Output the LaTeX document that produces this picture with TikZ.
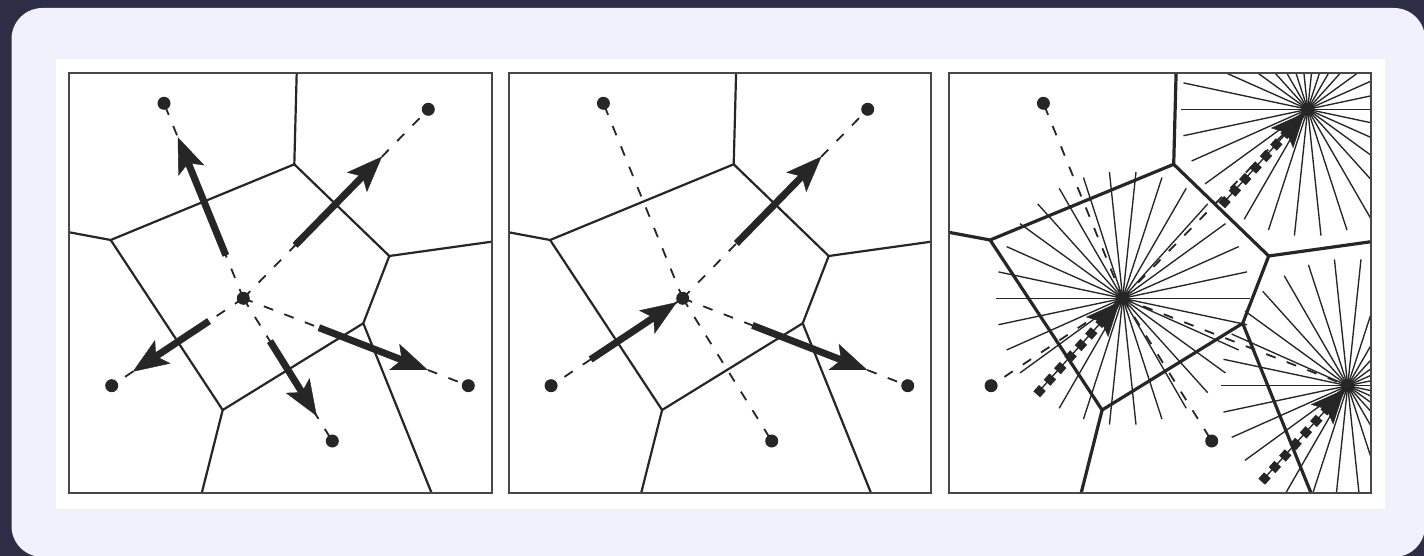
\documentclass[tikz,border=0pt]{standalone}
\usetikzlibrary{arrows.meta,calc}
\definecolor{bgdark}{HTML}{2D2D45}
\definecolor{lav}{HTML}{F1F1FD}
\definecolor{ink}{HTML}{262626}
\definecolor{framec}{HTML}{474747}

\newcommand\panelpts[2]{%
 \begin{scope}[shift={(#2,72.7)}]
  \coordinate (#1A) at (227.4,0);
  \coordinate (#1B) at (225,91.6);
  \coordinate (#1C) at (41.4,167.3);
  \coordinate (#1Cl) at (0,159.6);
  \coordinate (#1D) at (320,183.3);
  \coordinate (#1Dr) at (422.4,169);
  \coordinate (#1E) at (294,250.6);
  \coordinate (#1F) at (153.4,337.3);
  \coordinate (#1Fb) at (132.4,420.6);
  \coordinate (#1Eb) at (362.4,420.6);
  \coordinate (#1TL) at (94.7,30.6);
  \coordinate (#1TR) at (359,36.6);
  \coordinate (#1Ct) at (174,225.6);
  \coordinate (#1BL) at (42.4,313);
  \coordinate (#1Bt) at (263,368.3);
  \coordinate (#1R) at (399,313);
  \coordinate (#1nw) at (0,0);
  \coordinate (#1se) at (422.4,420.6);
 \end{scope}}

\newcommand\paneledges[2]{%
  \draw[#2] (#1A) -- (#1B) -- (#1C) -- (#1Cl);
  \draw[#2] (#1B) -- (#1D) -- (#1Dr);
  \draw[#2] (#1D) -- (#1E) -- (#1F) -- (#1C);
  \draw[#2] (#1F) -- (#1Fb);
  \draw[#2] (#1E) -- (#1Eb);}

\newcommand\paneldashes[1]{%
  \foreach \s in {TL,TR,BL,Bt,R} \draw[dashln] (#1Ct) -- (#1\s);}

\newcommand\paneldots[1]{%
  \foreach \s in {TL,TR,Ct,BL,Bt,R} \fill[ink] (#1\s) circle[radius=6.5];}

\begin{document}
\begin{tikzpicture}[x=1pt,y=-1pt,
  edge/.style={ink,line width=2.2pt,line join=miter},
  edgethick/.style={ink,line width=3.2pt,line join=miter},
  framest/.style={draw=framec,line width=1.8pt},
  dashln/.style={ink,line width=1.8pt,dash pattern=on 10pt off 12pt},
  bigarrow/.style={ink,line width=7pt,-{Stealth[length=36pt,width=28pt,inset=8pt,line width=0.4pt]}},
  dotarrow/.style={ink,line width=9pt,dash pattern=on 8.5pt off 7pt,-{Stealth[length=34pt,width=30pt,inset=7pt,line width=0.4pt]}},
  ray/.style={ink,line width=1.35pt}]
\useasboundingbox (0,0) rectangle (1424,556);
\clip (0,0) rectangle (1424,556);
\fill[bgdark] (0,0) rectangle (1424,556);
\fill[lav,rounded corners=31pt] (11.5,8) rectangle (1425,557);
\fill[white] (56,59) rectangle (1385,509);

\panelpts{p1}{69.3}
\panelpts{p2}{508.7}
\panelpts{p3}{948.7}

% ---------- panel 1 ----------
\paneledges{p1}{edge}
\paneldashes{p1}
\draw[bigarrow] ($(p1Ct)!0.22!(p1TL)$) -- ($(p1Ct)!0.826!(p1TL)$);
\draw[bigarrow] ($(p1Ct)!0.28!(p1TR)$) -- ($(p1Ct)!0.75!(p1TR)$);
\draw[bigarrow] ($(p1Ct)!0.26!(p1BL)$) -- ($(p1Ct)!0.84!(p1BL)$);
\draw[bigarrow] ($(p1Ct)!0.30!(p1Bt)$) -- ($(p1Ct)!0.825!(p1Bt)$);
\draw[bigarrow] ($(p1Ct)!0.336!(p1R)$) -- ($(p1Ct)!0.82!(p1R)$);
\paneldots{p1}
\draw[framest] (p1nw) rectangle (p1se);

% ---------- panel 2 ----------
\paneledges{p2}{edge}
\paneldashes{p2}
\draw[bigarrow] ($(p2BL)!0.30!(p2Ct)$) -- ($(p2BL)!0.955!(p2Ct)$);
\draw[bigarrow] ($(p2Ct)!0.29!(p2TR)$) -- ($(p2Ct)!0.75!(p2TR)$);
\draw[bigarrow] ($(p2Ct)!0.31!(p2R)$) -- ($(p2Ct)!0.82!(p2R)$);
\paneldots{p2}
\draw[framest] (p2nw) rectangle (p2se);

% ---------- panel 3 ----------
\paneledges{p3}{edgethick}
\paneldashes{p3}
\begin{scope}
  \clip (p3nw) rectangle (p3se);
  \foreach \s in {Ct,TR,R}{
    \foreach \a in {0,12,...,348}
      \draw[ray] (p3\s) -- ++(\a:127);
  }
\end{scope}
\foreach \s in {Ct,TR,R}{
  \coordinate (p3\s start) at ($(p3\s)+(-86,96)$);
  \coordinate (p3\s tip) at ($(p3\s)+(-3,3.5)$);
  \draw[dotarrow] (p3\s start) -- (p3\s tip);
}
\paneldots{p3}
\draw[framest] (p3nw) rectangle (p3se);
\end{tikzpicture}
\end{document}
